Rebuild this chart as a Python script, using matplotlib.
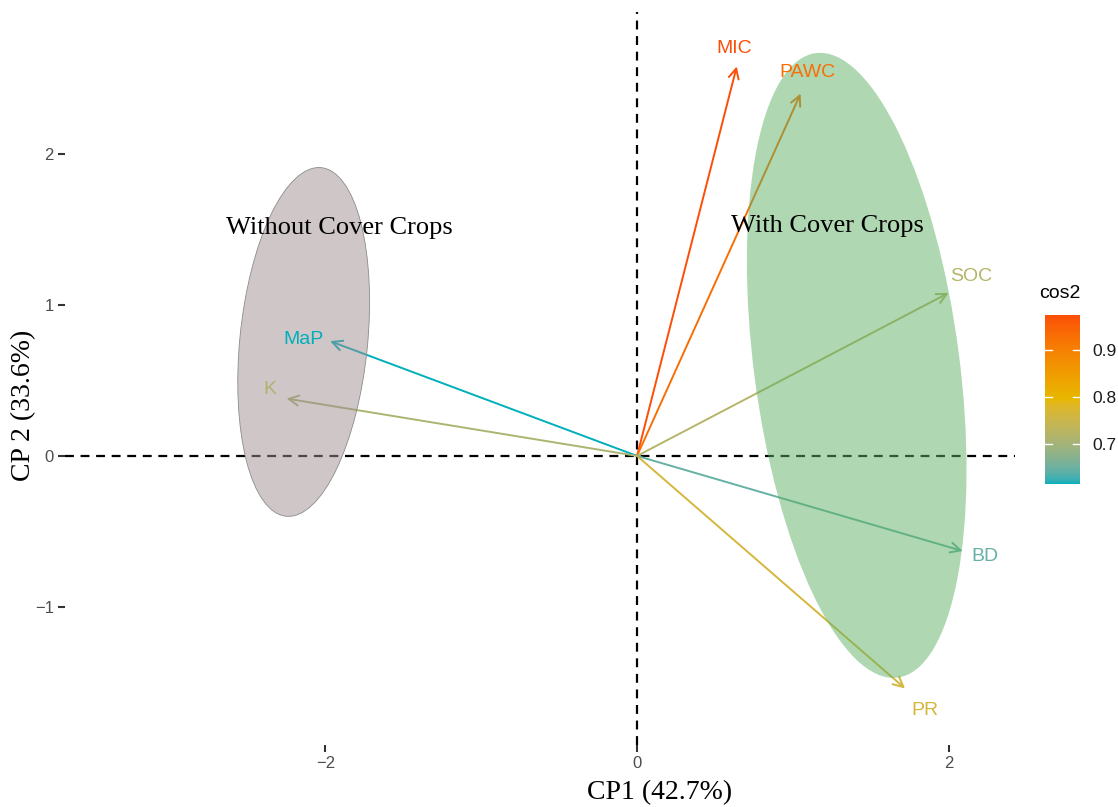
import matplotlib
matplotlib.use("Agg")
import matplotlib.pyplot as plt
from matplotlib.patches import Ellipse
from matplotlib.colors import ListedColormap, Normalize, to_rgb
import numpy as np

# variables of the PCA (arrow tips) and their cos2
variables = ["MIC", "PAWC", "SOC", "BD", "PR", "MaP", "K"]
cp1 = [0.64, 1.05, 2.00, 2.09, 1.72, -1.97, -2.25]
cp2 = [2.58, 2.40, 1.08, -0.63, -1.54, 0.76, 0.38]
cos2 = [0.975, 0.93, 0.72, 0.645, 0.765, 0.615, 0.71]

# group ellipses: centre x, centre y, width, height, angle
groups = ["Without Cover Crops", "With Cover Crops"]
ell_cx = [-2.14, 1.41]
ell_cy = [0.755, 0.60]
ell_w = [2.32, 4.17]
ell_h = [0.82, 1.32]
ell_ang = [84.5, 97.2]

lab_off = {"MIC": (-1.5, 13), "PAWC": (5, 15), "SOC": (16, 11.5), "BD": (16, -4),
           "PR": (14, -16), "MaP": (-19.5, 1.5), "K": (-12, 6.5)}


# gradient interpolated in Lab space (like ggplot's scale_color_gradientn)
def rgb2lab(c):
    c = np.array(c)
    c = np.where(c > 0.04045, ((c + 0.055) / 1.055) ** 2.4, c / 12.92)
    M = np.array([[0.4124, 0.3576, 0.1805], [0.2126, 0.7152, 0.0722], [0.0193, 0.1192, 0.9505]])
    xyz = M @ c / np.array([0.95047, 1.0, 1.08883])
    f = np.where(xyz > 0.008856, np.cbrt(xyz), 7.787 * xyz + 16 / 116)
    return np.array([116 * f[1] - 16, 500 * (f[0] - f[1]), 200 * (f[1] - f[2])])


def lab2rgb(lab):
    L, a, b = lab
    fy = (L + 16) / 116
    fx = fy + a / 500
    fz = fy - b / 200
    f = np.array([fx, fy, fz])
    xyz = np.where(f ** 3 > 0.008856, f ** 3, (f - 16 / 116) / 7.787) * np.array([0.95047, 1.0, 1.08883])
    Mi = np.array([[3.2406, -1.5372, -0.4986], [-0.9689, 1.8758, 0.0415], [0.0557, -0.2040, 1.0570]])
    c = Mi @ xyz
    c = np.where(c > 0.0031308, 1.055 * np.clip(c, 0, None) ** (1 / 2.4) - 0.055, 12.92 * c)
    return np.clip(c, 0, 1)


stops = [rgb2lab(to_rgb(h)) for h in ["#00AFBB", "#E7B800", "#FC4E07"]]
cols = []
for t in np.linspace(0, 1, 256):
    if t <= 0.5:
        u = t / 0.5
        lab = stops[0] * (1 - u) + stops[1] * u
    else:
        u = (t - 0.5) / 0.5
        lab = stops[1] * (1 - u) + stops[2] * u
    cols.append(lab2rgb(lab))
cmap = ListedColormap(cols)
norm = Normalize(vmin=0.615, vmax=0.975)

fig = plt.figure(figsize=(11.18, 8.07), dpi=100)
ax = fig.add_axes([0.058, 0.077, 0.850, 0.908])
ax.set_xlim(-3.673, 2.427)
ax.set_ylim(-1.914, 2.940)

ax.axhline(0, color="black", ls=(0, (4, 3)), lw=1.6, zorder=1)
ax.axvline(0, color="black", ls=(0, (4, 3)), lw=1.6, zorder=1)

for i, v in enumerate(variables):
    c = cmap(norm(cos2[i]))
    ax.annotate("", xy=(cp1[i], cp2[i]), xytext=(0, 0),
                arrowprops=dict(arrowstyle="->", color=c, lw=1.4,
                                mutation_scale=18, shrinkA=0, shrinkB=0),
                zorder=2)

fills = [(159/255, 143/255, 145/255), (97/255, 177/255, 101/255)]
edges = ["#8c8c8c", "none"]
for i in range(2):
    e = Ellipse((ell_cx[i], ell_cy[i]), ell_w[i], ell_h[i], angle=ell_ang[i],
                facecolor=fills[i], alpha=0.5, edgecolor="none", zorder=3)
    ax.add_patch(e)
    if edges[i] != "none":
        e2 = Ellipse((ell_cx[i], ell_cy[i]), ell_w[i], ell_h[i], angle=ell_ang[i],
                     facecolor="none", edgecolor=edges[i], lw=0.6, zorder=3)
        ax.add_patch(e2)

for i, v in enumerate(variables):
    c = cmap(norm(cos2[i]))
    ax.annotate(v, xy=(cp1[i], cp2[i]), xytext=lab_off[v], textcoords="offset points",
                ha="center", va="center", color=c, fontsize=14,
                family="Liberation Sans", zorder=4)

ax.text(-1.91, 1.51, groups[0], ha="center", va="center", fontsize=19,
        family="Liberation Serif", zorder=5)
ax.text(1.22, 1.52, groups[1], ha="center", va="center", fontsize=19,
        family="Liberation Serif", zorder=5)

for s in ax.spines.values():
    s.set_visible(False)
ax.set_xticks([-2, 0, 2])
ax.set_xticklabels(["\u22122", "0", "2"])
ax.set_yticks([-1, 0, 1, 2])
ax.set_yticklabels(["\u22121", "0", "1", "2"])
ax.tick_params(length=5, width=1.5, color="#333333", labelcolor="#4d4d4d",
               labelsize=12, pad=3)
for t in ax.get_xticklabels() + ax.get_yticklabels():
    t.set_family("Liberation Sans")

fig.text(660 / 1118, 1 - 793 / 807, "CP1 (42.7%)", ha="center", va="center",
         fontsize=20, family="Liberation Serif")
fig.text(24 / 1118, 1 - 405 / 807, "CP 2 (33.6%)", ha="center", va="center",
         fontsize=20, family="Liberation Serif", rotation=90)

# colour bar
cax = fig.add_axes([1045 / 1118, 1 - 484 / 807, 35 / 1118, 169 / 807])
grad = np.linspace(0.615, 0.975, 256).reshape(-1, 1)
cax.imshow(grad, aspect="auto", cmap=cmap, norm=norm, origin="lower",
           extent=[0, 1, 0.615, 0.975])
cax.set_xlim(0, 1)
cax.set_ylim(0.615, 0.975)
cax.set_xticks([])
for tv in [0.7, 0.8, 0.9]:
    cax.plot([0, 0.2], [tv, tv], color="white", lw=1)
    cax.plot([0.8, 1], [tv, tv], color="white", lw=1)
cax.yaxis.tick_right()
cax.set_yticks([0.7, 0.8, 0.9])
cax.tick_params(length=0, labelsize=12.5, labelcolor="#1a1a1a", pad=9)
for t in cax.get_yticklabels():
    t.set_family("Liberation Sans")
for s in cax.spines.values():
    s.set_visible(False)
fig.text(1060 / 1118, 1 - 293 / 807, "cos2", ha="center", va="center",
         fontsize=14, family="Liberation Sans")

fig.savefig("out.png", dpi=100)
